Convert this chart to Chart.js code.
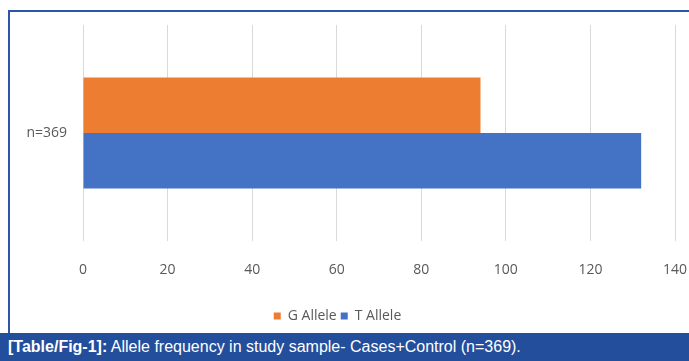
<!DOCTYPE html>
<html>
<head>
<meta charset="utf-8">
<script src="https://cdn.jsdelivr.net/npm/chart.js@4/dist/chart.umd.min.js"></script>
<style>
  body { margin: 0; background: #fff; width: 689px; height: 361px; overflow: hidden; position: relative; }
  #frame { position: absolute; left: 8px; top: 10px; width: 700px; height: 340px; border-top: 2px solid #2d56a5; border-left: 2px solid #2d56a5; }
  #wrap { position: absolute; left: 0; top: 0; width: 689px; height: 333px; }
  #caption { position: absolute; left: 0; top: 333px; width: 689px; height: 28px; background: #234e9b; color: #fff;
    font-family: "Liberation Sans Narrow", "Liberation Sans", sans-serif; font-size: 16px; line-height: 28px; padding-left: 8px; white-space: nowrap; }
  #caption b { font-weight: bold; }
</style>
</head>
<body>
<div id="frame"></div>
<div id="wrap"><canvas id="alleleChart"></canvas></div>
<div id="caption"><b>[Table/Fig-1]:</b> Allele frequency in study sample- Cases+Control (n=369).</div>
<script>
// data
const categories = ["n=369"];
const seriesNames = ["G Allele", "T Allele"];
const gAllele = [94];
const tAllele = [132];
const xTicks = [0, 20, 40, 60, 80, 100, 120, 140];

const labelColor = "#595959";
const fontFamily = "'Open Sans', 'Liberation Sans', sans-serif";

const chartElement = document.getElementById("alleleChart");

const alleleChart = new Chart(chartElement, {
  type: "bar",
  data: {
    labels: categories,
    datasets: [
      { label: seriesNames[0], data: gAllele, backgroundColor: "#ed7d31" },
      { label: seriesNames[1], data: tAllele, backgroundColor: "#4472c4" },
    ],
  },
  options: {
    indexAxis: "y",
    responsive: true,
    maintainAspectRatio: false,
    animation: false,
    layout: { padding: { top: 25, right: 14, bottom: 0, left: 0 } },
    datasets: { bar: { categoryPercentage: 0.515, barPercentage: 1.0 } },
    scales: {
      x: {
        min: xTicks[0],
        max: xTicks[xTicks.length - 1],
        afterBuildTicks: (scale) => { scale.ticks = xTicks.map(v => ({ value: v })); },
        afterFit: (scale) => { scale.height = 64; scale.paddingLeft = 0; scale.paddingRight = 0; },
        grid: { color: "#d9d9d9", lineWidth: 1, drawTicks: false },
        border: { display: false },
        ticks: { color: labelColor, font: { family: fontFamily, size: 14 }, padding: 21 },
      },
      y: {
        afterFit: (scale) => { scale.width = 83; },
        grid: { display: false },
        border: { display: false },
        ticks: { color: labelColor, font: { family: fontFamily, size: 14 }, padding: 8 },
      },
    },
    plugins: {
      legend: {
        position: "bottom",
        labels: { color: labelColor, font: { family: fontFamily, size: 14 }, boxWidth: 7, boxHeight: 7, padding: 4 },
      },
      tooltip: { enabled: false },
    },
  },
});
</script>
</body>
</html>
